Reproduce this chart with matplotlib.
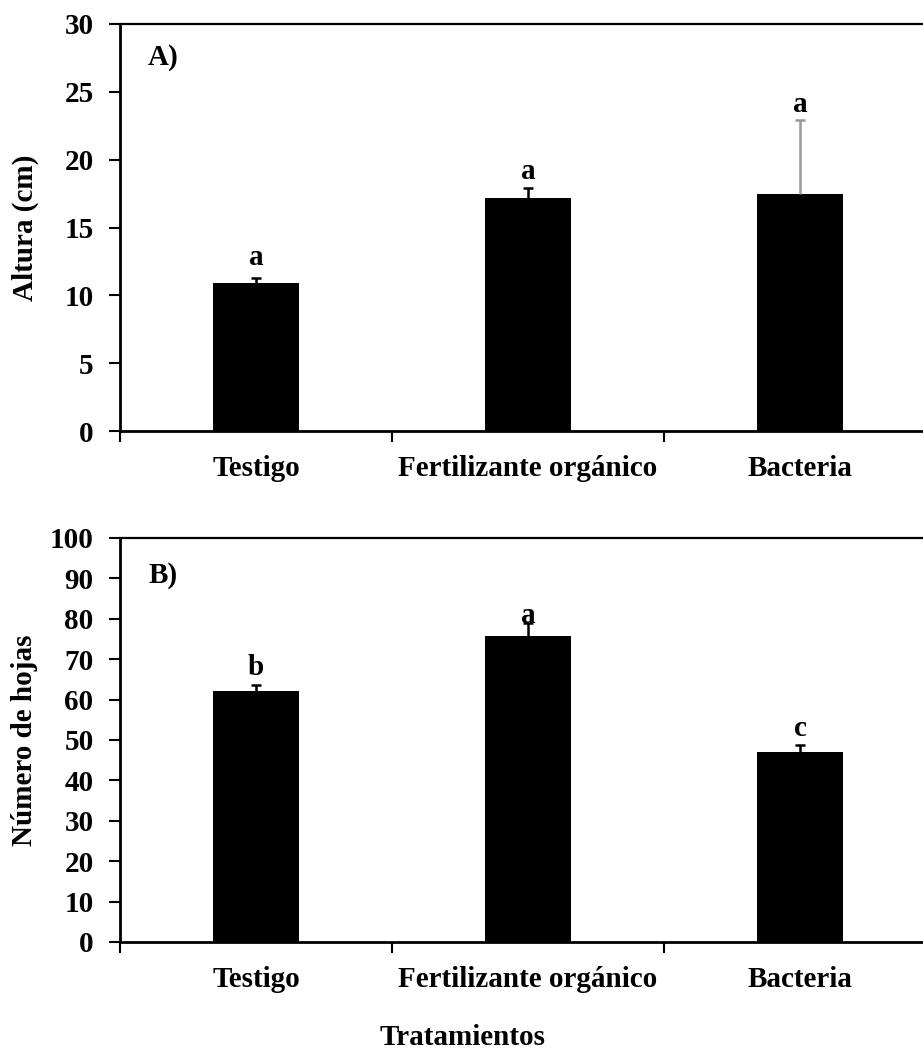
import numpy as np
import matplotlib
matplotlib.use("Agg")
import matplotlib.pyplot as plt
from matplotlib.ticker import FixedLocator

plt.rcParams['font.family'] = ['Liberation Serif', 'DejaVu Serif']
plt.rcParams['font.weight'] = 'bold'

# datos
tratamientos = ['Testigo', 'Fertilizante orgánico', 'Bacteria']
altura = [10.9, 17.2, 17.5]
altura_err = [0.4, 0.7, 5.4]
altura_letras = ['a', 'a', 'a']
hojas = [62.1, 75.7, 47.0]
hojas_err = [1.5, 3.3, 1.8]
hojas_letras = ['b', 'a', 'c']

W, H = 923, 1051
FS = 21
fig = plt.figure(figsize=(W / 100, H / 100), dpi=100)

def panel(rect, vals, errs, letras, err_colors, ymax, ystep, ylabel, tag, tag_y, offs):
    ax = fig.add_axes(rect)
    x = np.arange(len(vals))
    ax.bar(x, vals, width=0.316, color='black', zorder=2)
    top = np.array(vals) + np.array(errs)
    ax.vlines(x, vals, top, colors=err_colors, linewidth=1.8, zorder=3)
    ax.hlines(top, x - 0.02, x + 0.02, colors=err_colors, linewidth=1.8, zorder=3)
    for xi, t, l, o in zip(x, top, letras, offs):
        ax.annotate(l, (xi, t), xytext=(0, o), textcoords='offset points',
                    ha='center', va='baseline', fontsize=FS, fontweight='bold')
    ax.set_xlim(-0.5, 2.452)
    ax.set_ylim(0, ymax)
    ax.set_yticks(np.arange(0, ymax + 1, ystep))
    ax.xaxis.set_major_locator(FixedLocator([-0.5, 0.5, 1.5]))
    ax.xaxis.set_minor_locator(FixedLocator(list(x)))
    ax.set_xticklabels([])
    ax.set_xticklabels(tratamientos, minor=True)
    ax.tick_params(axis='x', which='minor', length=0, pad=17, labelsize=FS)
    ax.tick_params(axis='x', which='major', length=8, width=1.5, direction='out')
    ax.tick_params(axis='y', length=8, width=1.5, direction='out', pad=11, labelsize=FS)
    for lab in ax.get_xticklabels(minor=True) + ax.get_yticklabels():
        lab.set_fontweight('bold')
    ax.spines['right'].set_visible(False)
    ax.spines['left'].set_linewidth(2)
    ax.spines['bottom'].set_linewidth(2)
    ax.spines['top'].set_linewidth(1.6)
    ax.text(0.035, tag_y, tag, transform=ax.transAxes, fontsize=FS,
            fontweight='bold', ha='left', va='center')
    fig.text(25 / W, rect[1] + rect[3] / 2, ylabel, rotation=90,
             ha='center', va='center', fontsize=FS, fontweight='bold')
    return ax

panel([120 / W, 1 - 431 / H, 803 / W, 407 / H], altura, altura_err, altura_letras,
      ['black', 'black', '#999999'], 30, 5, 'Altura (cm)', 'A)', 0.918,
      [9, 6.5, 6])
panel([120 / W, 1 - 942 / H, 803 / W, 404 / H], hojas, hojas_err, hojas_letras,
      ['black', 'black', 'black'], 100, 10, 'Número de hojas', 'B)', 0.907,
      [7, 0, 6.5])

fig.text(463 / W, 1 - 1045 / H, 'Tratamientos', ha='center', va='baseline',
         fontsize=FS, fontweight='bold')

fig.savefig('out.png', dpi=100)
